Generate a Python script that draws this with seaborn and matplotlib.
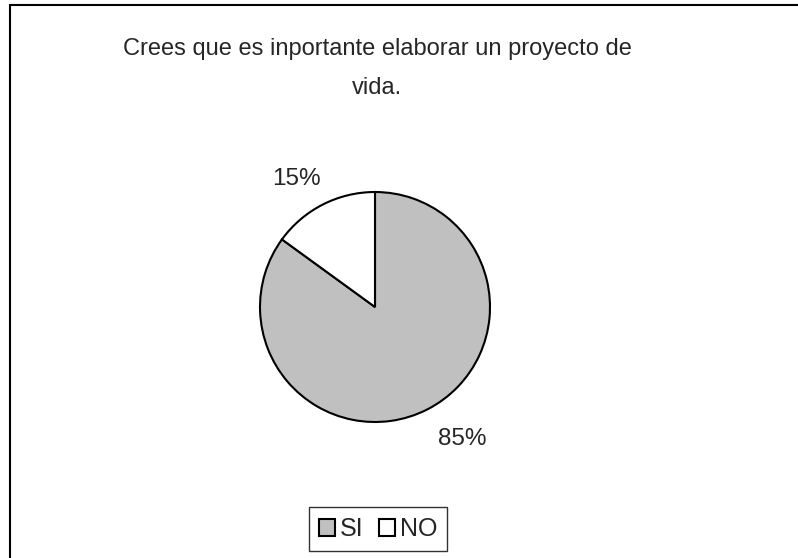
import matplotlib
matplotlib.use("Agg")
import matplotlib.pyplot as plt
import seaborn as sns
from matplotlib.patches import Rectangle

# Data
categories = ["SI", "NO"]
values = [85, 15]
colors = ["#C0C0C0", "#FFFFFF"]
title = "Crees que es inportante elaborar un proyecto de\nvida."

sns.set_style("white")
plt.rcParams['font.family'] = ['Liberation Sans', 'DejaVu Sans']

fig = plt.figure(figsize=(7.98, 5.58), dpi=100)

# outer frame (cut by the image edges on right and bottom)
fig.patches.append(Rectangle((10 / 798, -0.05), 1.0, 1 - 5 / 558 + 0.05,
                             transform=fig.transFigure, fill=False,
                             edgecolor="black", linewidth=1.5))

fig.text(377 / 798, 1 - 68 / 558, title, ha="center", va="center",
         fontsize=17, linespacing=2.0)

ax = fig.add_axes([260 / 798, 136 / 558, 230 / 798, 230 / 558])
wedges, texts, autotexts = ax.pie(
    values, colors=colors, startangle=90, counterclock=False,
    autopct="%1.0f%%", pctdistance=1.33,
    wedgeprops=dict(edgecolor="black", linewidth=1.5),
    textprops=dict(fontsize=17.5))
# nudge percentage labels to where the original places them
autotexts[0].set_position((0.76, -1.15))
autotexts[1].set_position((-0.68, 1.11))
ax.set_xlim(-1, 1)
ax.set_ylim(-1, 1)
ax.set_aspect("equal")
ax.axis("off")

leg = fig.legend(wedges, categories, loc="center", bbox_to_anchor=(378 / 798, 1 - 529 / 558),
                 ncol=2, frameon=True, fancybox=False, fontsize=18,
                 handlelength=0.65, handleheight=0.65, handletextpad=0.2,
                 columnspacing=0.6, borderpad=0.4, borderaxespad=0)
leg.get_frame().set_edgecolor("black")
leg.get_frame().set_linewidth(1.0)

fig.savefig("out.png", dpi=100)
